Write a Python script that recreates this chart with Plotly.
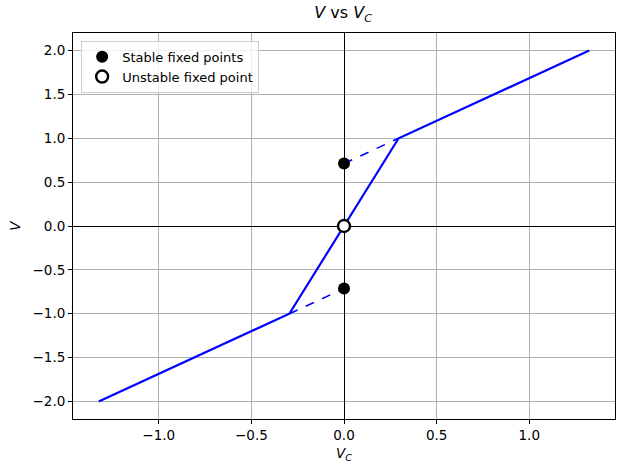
import plotly.graph_objects as go

# piecewise-linear characteristic V(V_C)
vc_curve = [-1.324, -0.295, 0.295, 1.324]
v_curve = [-2.0, -1.0, 1.0, 2.0]

# dashed extensions of the outer segments down to V_C = 0
vc_dash_up = [0.0, 0.295]
v_dash_up = [0.713, 1.0]
vc_dash_dn = [-0.295, 0.0]
v_dash_dn = [-1.0, -0.713]

# fixed points
stable_vc = [0.0, 0.0]
stable_v = [0.713, -0.713]
unstable_vc = [0.0]
unstable_v = [0.0]

xticks = [-1.0, -0.5, 0.0, 0.5, 1.0]
yticks = [-2.0, -1.5, -1.0, -0.5, 0.0, 0.5, 1.0, 1.5, 2.0]

fig = go.Figure()
fig.add_trace(go.Scatter(x=vc_curve, y=v_curve, mode="lines",
                         line=dict(color="blue", width=2.2), showlegend=False))
fig.add_trace(go.Scatter(x=vc_dash_up, y=v_dash_up, mode="lines",
                         line=dict(color="blue", width=1.6, dash="dash"), showlegend=False))
fig.add_trace(go.Scatter(x=vc_dash_dn, y=v_dash_dn, mode="lines",
                         line=dict(color="blue", width=1.6, dash="dash"), showlegend=False))
fig.add_trace(go.Scatter(x=stable_vc, y=stable_v, mode="markers", name="Stable fixed points",
                         marker=dict(color="black", size=12)))
fig.add_trace(go.Scatter(x=unstable_vc, y=unstable_v, mode="markers", name="Unstable fixed point",
                         marker=dict(color="white", size=12, line=dict(color="black", width=2.4))))

axis_common = dict(showgrid=True, gridcolor="#b0b0b0", gridwidth=1,
                   showline=True, linecolor="black", linewidth=1, mirror=True,
                   ticks="outside", ticklen=4, tickcolor="black",
                   zeroline=True, zerolinecolor="black", zerolinewidth=1,
                   tickformat=".1f", tickfont=dict(size=13.5, color="black"),
                   automargin=False)

fig.update_xaxes(range=[-1.463, 1.463], tickvals=xticks,
                 title=dict(text="<i>V</i><sub><i>C</i></sub>", font=dict(size=13.5), standoff=6),
                 **axis_common)
fig.update_yaxes(range=[-2.2, 2.2], tickvals=yticks,
                 title=dict(text="<i>V</i>", font=dict(size=13.5), standoff=8),
                 **axis_common)

fig.update_layout(
    width=625, height=474,
    margin=dict(l=73, r=10, t=33, b=55),
    plot_bgcolor="white", paper_bgcolor="white",
    font=dict(family="DejaVu Sans", color="black", size=13.5),
    title=dict(text="<i>V</i> vs <i>V</i><sub><i>C</i></sub>", x=0.549, xanchor="center",
               y=0.985, yanchor="top", font=dict(size=16)),
    legend=dict(x=0.015, y=0.98, xanchor="left", yanchor="top",
                bgcolor="rgba(255,255,255,0.8)", bordercolor="#cccccc", borderwidth=1,
                font=dict(size=13), itemwidth=30),
)

# drop the default 8px page margin so the figure sits at the window's corner
fig.write_html("out.html", config={"displayModeBar": False},
               post_script="document.body.style.margin='0';")
